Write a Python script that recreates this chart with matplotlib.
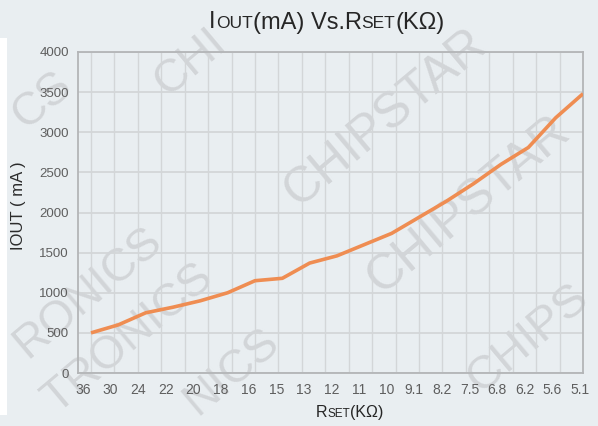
import numpy as np
import matplotlib
matplotlib.use("Agg")
import matplotlib.pyplot as plt
from matplotlib.patches import Rectangle

# ---- data ----
rset_labels = ["36", "30", "24", "22", "20", "18", "16", "15", "13", "12", "11",
               "10", "9.1", "8.2", "7.5", "6.8", "6.2", "5.6", "5.1"]
iout_ma = [500, 600, 750, 820, 900, 1000, 1150, 1180, 1370, 1460, 1600,
           1740, 1940, 2140, 2360, 2600, 2810, 3180, 3480]
y_ticks = [0, 500, 1000, 1500, 2000, 2500, 3000, 3500, 4000]

W, H = 598, 426
BG = "#e9eef1"
plt.rcParams["font.family"] = ["Liberation Sans", "DejaVu Sans"]

fig = plt.figure(figsize=(W / 100, H / 100), dpi=100, facecolor=BG)

# white strip at left edge
fig.patches.append(Rectangle((0, 11 / H), 7 / W, (415 - 38) / H, transform=fig.transFigure,
                             facecolor="white", edgecolor="none", zorder=0))

ax = fig.add_axes([78 / W, (H - 373) / H, 505 / W, 321 / H])

n = len(iout_ma)
x = np.arange(n)
step = 27.33  # px per category
ax.set_xlim((78 - 91) / step, n - 1)
ax.set_ylim(0, 4000)

# vertical grid lines (22 of them, spacing differs from categories)
gpos = np.arange(22) * (n - 1) / 21
for g in gpos[:-1]:
    ax.axvline(g, color="#d3d6d8", lw=1.0, zorder=1)
ax.set_yticks(y_ticks)
ax.yaxis.grid(True, color="#d3d6d8", lw=1.3, zorder=1)
ax.set_axisbelow(True)

for s in ax.spines.values():
    s.set_color("#b3b5b7")
    s.set_linewidth(1.3)

ax.plot(x, iout_ma, color="#ef8d52", lw=2.6, solid_capstyle="butt", zorder=4)

label_pos = np.linspace((83 - 91) / step, (580 - 91) / step, n)
ax.set_xticks(label_pos, rset_labels)
ax.tick_params(axis="x", length=0, pad=7, labelsize=10, labelcolor="#5e5e5e")
ax.tick_params(axis="y", length=0, pad=6.5, labelsize=9.5, labelcolor="#5e5e5e")

ax.set_zorder(2)
ax.patch.set_alpha(0.0)
fig.patches.append(Rectangle((78 / W, (H - 373) / H), 505 / W, 321 / H, transform=fig.transFigure,
                             facecolor=BG, edgecolor="none", zorder=0))

# watermark pieces (visible parts only)
wm_color = "#d2d5d8"
wms = [("CHIPSTAR", 385, 118, 36), ("CHIPSTAR", 468, 205, 36), ("CHIPS", 528, 338, 34),
       ("RONICS", 88, 292, 33), ("TRONICS", 128, 338, 33), ("NICS", 232, 372, 33),
       ("CS", 42, 100, 33), ("CHI", 190, 62, 33)]
for txt, cx, cy, fs in wms:
    fig.text(cx / W, 1 - cy / H, txt, rotation=40, ha="center", va="center",
             fontsize=fs, color=wm_color, zorder=1.5)

# y label
fig.text(19 / W, 1 - 206 / H, "IOUT ( mA )", rotation=90, ha="center", va="center",
         fontsize=12, color="#2b2b2b")

# composite (small-caps style) texts
renderer = fig.canvas.get_renderer()


def composite(pieces, cx, baseline_y, color):
    texts = []
    for s, fs in pieces:
        t = fig.text(0, 1 - baseline_y / H, s, fontsize=fs, color=color,
                     ha="left", va="baseline", zorder=5)
        texts.append(t)
    widths = [t.get_window_extent(renderer).width for t in texts]
    total = sum(widths)
    xpos = cx - total / 2
    for t, w in zip(texts, widths):
        t.set_x(xpos / W)
        xpos += w


composite([("I", 17), ("OUT", 12.5), ("(mA) Vs.R", 17), ("SET", 12.5), ("(KΩ)", 17)],
          327, 28.5, "#262626")
composite([("R", 11.5), ("SET", 8.5), ("(KΩ)", 11.5)], 350, 417, "#262626")

fig.savefig("out.png", dpi=100, facecolor=BG)
